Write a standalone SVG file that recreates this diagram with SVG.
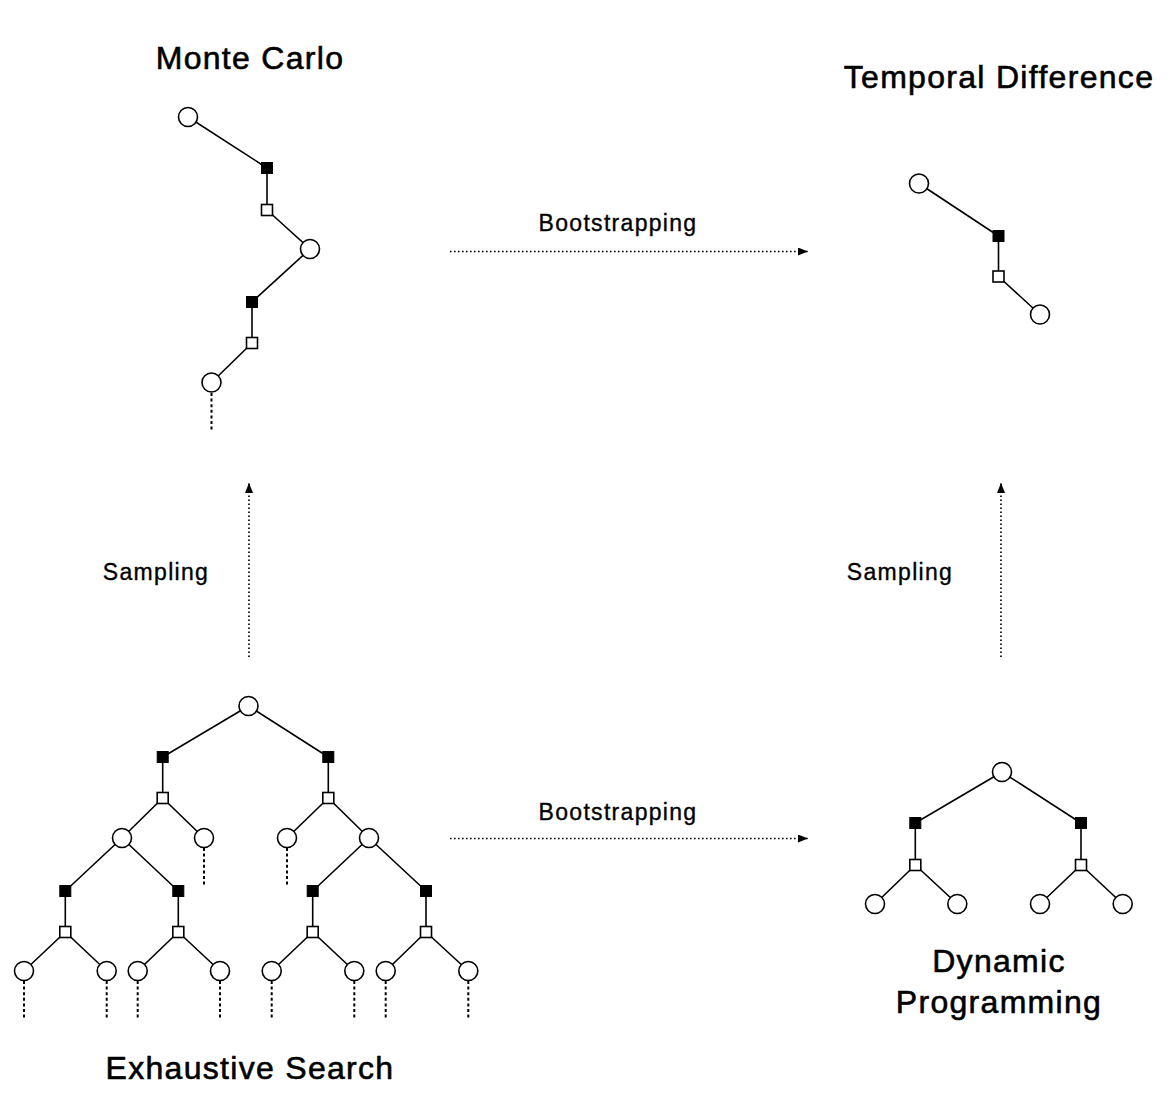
<svg xmlns="http://www.w3.org/2000/svg" width="1176" height="1102" viewBox="0 0 1176 1102">
<defs>
<style>
.t{font-family:"Liberation Sans",Arial,sans-serif;fill:#000;text-anchor:middle}
.title{font-size:32px;letter-spacing:1.3px;stroke:#000;stroke-width:0.6}
.lab{font-size:23px;letter-spacing:1.3px;stroke:#000;stroke-width:0.35}
.e{stroke:#000;stroke-width:1.6;fill:none}
.tail{stroke:#000;stroke-width:2;stroke-dasharray:3 2.6;fill:none}
.arr{stroke:#000;stroke-width:1.7;stroke-dasharray:1.6 2.4;fill:none}
.c{fill:#fff;stroke:#000;stroke-width:1.6}
.f{fill:#000;stroke:#000;stroke-width:1}
.o{fill:#fff;stroke:#000;stroke-width:1.6}
</style>
<marker id="ah" viewBox="0 0 10 8" refX="10" refY="4" markerWidth="10" markerHeight="8" markerUnits="userSpaceOnUse" orient="auto">
<path d="M0,0 L10,4 L0,8 Z" fill="#000"/>
</marker>
</defs>
<rect width="1176" height="1102" fill="#fff"/>

<g id="connectors">
<polyline class="e" points="188,117 267,168 267,210 310,249 252,302 252,343 211.5,382.5"/>
<line class="tail" x1="211.5" y1="393" x2="211.5" y2="431"/>
<polyline class="e" points="919,183.5 998.5,236 998.5,276.5 1040,314.5"/>
<path class="e" d="M248.5,706 L162.7,757 L162.7,798 M248.5,706 L328.3,757 L328.3,798
M162.7,798 L122,838 M162.7,798 L204,838 M328.3,798 L287,838 M328.3,798 L369,838
M122,838 L65.3,891 L65.3,932 M122,838 L178.3,891 L178.3,932
M369,838 L312.7,891 L312.7,932 M369,838 L426,891 L426,932
M65.3,932 L24,971 M65.3,932 L106.7,971 M178.3,932 L137.7,971 M178.3,932 L220,971
M312.7,932 L271.7,971 M312.7,932 L354.3,971 M426,932 L385.7,971 M426,932 L468.3,971"/>
<path class="tail" d="M204,848 V885 M287,848 V885 M24,981 V1020 M106.7,981 V1020 M137.7,981 V1020 M220,981 V1020 M271.7,981 V1020 M354.3,981 V1020 M385.7,981 V1020 M468.3,981 V1020"/>
<path class="e" d="M1002,772 L915.3,823 L915.3,865 M1002,772 L1081,823 L1081,865
M915.3,865 L875,904 M915.3,865 L957.3,904 M1081,865 L1040,904 M1081,865 L1122.7,904"/>
<line class="arr" x1="450" y1="251.5" x2="808" y2="251.5" marker-end="url(#ah)"/>
<line class="arr" x1="450" y1="838.5" x2="808" y2="838.5" marker-end="url(#ah)"/>
<line class="arr" x1="249" y1="657" x2="249" y2="483" marker-end="url(#ah)"/>
<line class="arr" x1="1001" y1="657" x2="1001" y2="483" marker-end="url(#ah)"/>
</g>

<g id="mc">
<circle class="c" cx="188" cy="117" r="9.5"/>
<rect class="f" x="261.5" y="162.5" width="11" height="11"/>
<rect class="o" x="261.5" y="204.5" width="11" height="11"/>
<circle class="c" cx="310" cy="249" r="9.5"/>
<rect class="f" x="246.5" y="296.5" width="11" height="11"/>
<rect class="o" x="246.5" y="337.5" width="11" height="11"/>
<circle class="c" cx="211.5" cy="382.5" r="9.5"/>
</g>

<g id="td">
<circle class="c" cx="919" cy="183.5" r="9.5"/>
<rect class="f" x="993" y="230.5" width="11" height="11"/>
<rect class="o" x="993" y="271" width="11" height="11"/>
<circle class="c" cx="1040" cy="314.5" r="9.5"/>
</g>

<g id="es">
<circle class="c" cx="248.5" cy="706" r="9.5"/>
<rect class="f" x="157.2" y="751.5" width="11" height="11"/>
<rect class="f" x="322.8" y="751.5" width="11" height="11"/>
<rect class="o" x="157.2" y="792.5" width="11" height="11"/>
<rect class="o" x="322.8" y="792.5" width="11" height="11"/>
<circle class="c" cx="122" cy="838" r="9.5"/>
<circle class="c" cx="204" cy="838" r="9.5"/>
<circle class="c" cx="287" cy="838" r="9.5"/>
<circle class="c" cx="369" cy="838" r="9.5"/>
<rect class="f" x="59.8" y="885.5" width="11" height="11"/>
<rect class="f" x="172.8" y="885.5" width="11" height="11"/>
<rect class="f" x="307.2" y="885.5" width="11" height="11"/>
<rect class="f" x="420.5" y="885.5" width="11" height="11"/>
<rect class="o" x="59.8" y="926.5" width="11" height="11"/>
<rect class="o" x="172.8" y="926.5" width="11" height="11"/>
<rect class="o" x="307.2" y="926.5" width="11" height="11"/>
<rect class="o" x="420.5" y="926.5" width="11" height="11"/>
<circle class="c" cx="24" cy="971" r="9.5"/>
<circle class="c" cx="106.7" cy="971" r="9.5"/>
<circle class="c" cx="137.7" cy="971" r="9.5"/>
<circle class="c" cx="220" cy="971" r="9.5"/>
<circle class="c" cx="271.7" cy="971" r="9.5"/>
<circle class="c" cx="354.3" cy="971" r="9.5"/>
<circle class="c" cx="385.7" cy="971" r="9.5"/>
<circle class="c" cx="468.3" cy="971" r="9.5"/>
</g>

<g id="dp">
<circle class="c" cx="1002" cy="772" r="9.5"/>
<rect class="f" x="909.8" y="817.5" width="11" height="11"/>
<rect class="f" x="1075.5" y="817.5" width="11" height="11"/>
<rect class="o" x="909.8" y="859.5" width="11" height="11"/>
<rect class="o" x="1075.5" y="859.5" width="11" height="11"/>
<circle class="c" cx="875" cy="904" r="9.5"/>
<circle class="c" cx="957.3" cy="904" r="9.5"/>
<circle class="c" cx="1040" cy="904" r="9.5"/>
<circle class="c" cx="1122.7" cy="904" r="9.5"/>
</g>

<g id="labels">
<text class="t title" x="250" y="69">Monte Carlo</text>
<text class="t title" x="999" y="88">Temporal Difference</text>
<text class="t title" x="250" y="1079">Exhaustive Search</text>
<text class="t title" x="999" y="972">Dynamic</text>
<text class="t title" x="999" y="1013">Programming</text>
<text class="t lab" x="618" y="231">Bootstrapping</text>
<text class="t lab" x="618" y="820">Bootstrapping</text>
<text class="t lab" x="156" y="580">Sampling</text>
<text class="t lab" x="900" y="580">Sampling</text>
</g>
</svg>
